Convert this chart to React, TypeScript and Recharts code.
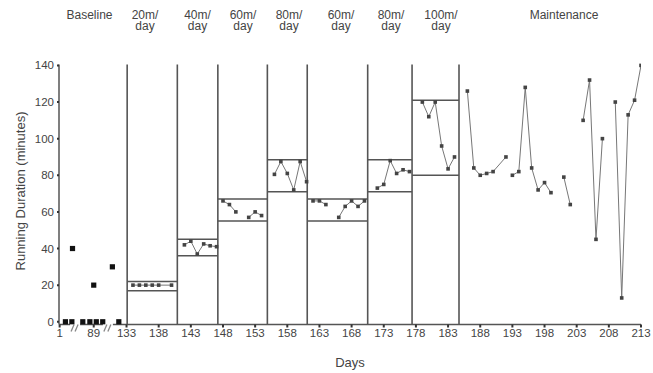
import React from 'react';
import {
  ComposedChart,
  Scatter,
  XAxis,
  YAxis,
  ReferenceLine,
  ReferenceDot,
} from 'recharts';

// baseline days are squeezed onto the axis (1..133 with two breaks)
const baselineDays = [123.5, 124.5, 124.6, 126.2, 127.3, 127.9, 128.3, 129.3, 130.8, 131.8];
const baselineMin = [0, 0, 40, 0, 0, 20, 0, 0, 30, 0];
const axisBreaks = [125.0, 130.1];

// treatment phases, one list per run of connected points
const treatDays = [
  [134, 135, 136, 137, 138, 140],
  [142, 143, 144, 145, 146, 147],
  [148, 149, 150],
  [152, 153, 154],
  [156, 157, 158, 159, 160, 161],
  [162, 163, 164],
  [166, 167, 168, 169, 170],
  [172, 173, 174, 175, 176, 177],
  [179, 180, 181, 182, 183, 184],
];
const treatMin = [
  [20, 20, 20, 20, 20, 20],
  [42, 44, 37, 42.5, 41.5, 41],
  [66, 64, 60],
  [57, 60, 58],
  [80.5, 87.5, 81, 72, 87.5, 76.5],
  [66, 66, 64],
  [57, 63, 66, 63, 66],
  [73, 75, 88, 81, 83, 82],
  [120, 112, 120, 96, 83.5, 90],
];

const maintDays = [
  [186, 187, 188, 189, 190, 192],
  [193, 194, 195, 196, 197, 198, 199],
  [201, 202],
  [204, 205, 206, 207],
  [209, 210, 211, 212, 213],
];
const maintMin = [
  [126, 84, 80, 81, 82, 90],
  [80, 82, 128, 84, 72, 76, 70.5],
  [79, 64],
  [110, 132, 45, 100],
  [120, 13, 113, 121, 140],
];

// phase change lines and criterion bands
const phaseBounds = [133.1, 140.9, 147.2, 154.9, 161.1, 170.5, 177.4, 184.7];
const critUpper = [22, 45, 67, 88.5, 67, 88.5, 121];
const critLower = [17, 36, 55, 71, 55, 71, 80];

const phaseLabels = ['Baseline', '20m/\nday', '40m/\nday', '60m/\nday', '80m/\nday', '60m/\nday', '80m/\nday', '100m/\nday', 'Maintenance'];
const phaseLabelX = [89.5, 145, 197.5, 243, 289, 341, 391, 441, 564];

const xTickPos = [122.6, 127.9, 133, 138, 143, 148, 153, 158, 163, 168, 173, 178, 183, 188, 193, 198, 203, 208, 213];
const xTickText = ['1', '89', '133', '138', '143', '148', '153', '158', '163', '168', '173', '178', '183', '188', '193', '198', '203', '208', '213'];
const yTicks = [0, 20, 40, 60, 80, 100, 120, 140];

const FONT = 'Arial, "Liberation Sans", sans-serif';
const INK = '#444';

const toPoints = (days: number[], mins: number[]) => days.map((d, i) => ({ day: d, min: mins[i] }));

const smallSquare = (props: any) => (
  <rect x={props.cx - 1.8} y={props.cy - 1.8} width={3.6} height={3.6} fill="#444" />
);
const bigSquare = (props: any) => (
  <rect x={props.cx - 2.6} y={props.cy - 2.6} width={5.2} height={5.2} fill="#111" />
);
const breakMark = (props: any) => {
  const { cx, cy } = props;
  return (
    <g>
      <rect x={cx - 5} y={cy - 2} width={10} height={4} fill="#fff" />
      <line x1={cx - 4} y1={cy + 7} x2={cx - 1} y2={cy} stroke="#888" strokeWidth={1.3} />
      <line x1={cx} y1={cy + 7} x2={cx + 3} y2={cy} stroke="#888" strokeWidth={1.3} />
    </g>
  );
};

const App: React.FC = () => {
  const segments = [
    ...treatDays.map((d, i) => toPoints(d, treatMin[i])),
    ...maintDays.map((d, i) => toPoints(d, maintMin[i])),
  ];

  return (
    <div style={{ position: 'absolute', left: 0, top: 0, width: 653, height: 373, background: '#fff', fontFamily: FONT }}>
      <ComposedChart
        width={653}
        height={373}
        margin={{ top: 64.5, right: 12, bottom: 18.5, left: 0 }}
      >
        <XAxis
          type="number"
          dataKey="day"
          domain={[122.5, 213]}
          ticks={xTickPos}
          tickFormatter={(v: number) => xTickText[xTickPos.indexOf(v)] ?? String(v)}
          interval={0}
          height={30}
          tickSize={3}
          tickMargin={1}
          tick={{ fill: INK, fontSize: 11.5, fontFamily: FONT }}
          tickLine={{ stroke: '#333', strokeWidth: 2 }}
          axisLine={{ stroke: '#555', strokeWidth: 1.5 }}
          allowDataOverflow
        />
        <YAxis
          type="number"
          dataKey="min"
          domain={[-1.5, 140.5]}
          ticks={yTicks}
          interval={0}
          width={59}
          tickSize={2}
          tickMargin={3}
          tick={{ fill: INK, fontSize: 11.5, fontFamily: FONT }}
          tickLine={{ stroke: '#333', strokeWidth: 2 }}
          axisLine={{ stroke: '#555', strokeWidth: 1.5 }}
        />

        {phaseBounds.map((x) => (
          <ReferenceLine key={'p' + x} x={x} stroke="#555" strokeWidth={1.6} ifOverflow="visible" />
        ))}
        {critUpper.map((v, i) => (
          <ReferenceLine
            key={'u' + i}
            segment={[{ x: phaseBounds[i], y: v }, { x: phaseBounds[i + 1], y: v }]}
            stroke="#555"
            strokeWidth={1.5}
            ifOverflow="visible"
          />
        ))}
        {critLower.map((v, i) => (
          <ReferenceLine
            key={'l' + i}
            segment={[{ x: phaseBounds[i], y: v }, { x: phaseBounds[i + 1], y: v }]}
            stroke="#555"
            strokeWidth={1.5}
            ifOverflow="visible"
          />
        ))}

        {axisBreaks.map((x) => (
          <ReferenceDot key={'b' + x} x={x} y={-1.5} r={0} shape={breakMark} ifOverflow="visible" />
        ))}

        <Scatter
          data={toPoints(baselineDays, baselineMin)}
          shape={bigSquare}
          isAnimationActive={false}
        />
        {segments.map((seg, i) => (
          <Scatter
            key={'s' + i}
            data={seg}
            shape={smallSquare}
            line={{ stroke: '#777', strokeWidth: 1 }}
            isAnimationActive={false}
          />
        ))}
      </ComposedChart>

      {phaseLabels.map((t, i) => (
        <div
          key={'t' + i}
          style={{
            position: 'absolute',
            left: phaseLabelX[i] - 50,
            top: 9.5,
            width: 100,
            textAlign: 'center',
            fontSize: 12,
            lineHeight: '11.6px',
            color: INK,
            whiteSpace: 'pre',
          }}
        >
          {t}
        </div>
      ))}

      <div
        style={{
          position: 'absolute',
          left: 20.5 - 120,
          top: 191 - 8,
          width: 240,
          height: 16,
          lineHeight: '16px',
          textAlign: 'center',
          fontSize: 13,
          color: INK,
          transform: 'rotate(-90deg)',
        }}
      >
        Running Duration (minutes)
      </div>
      <div
        style={{
          position: 'absolute',
          left: 350 - 40,
          top: 363 - 8,
          width: 80,
          lineHeight: '16px',
          textAlign: 'center',
          fontSize: 13,
          color: INK,
        }}
      >
        Days
      </div>
    </div>
  );
};

export default App;
